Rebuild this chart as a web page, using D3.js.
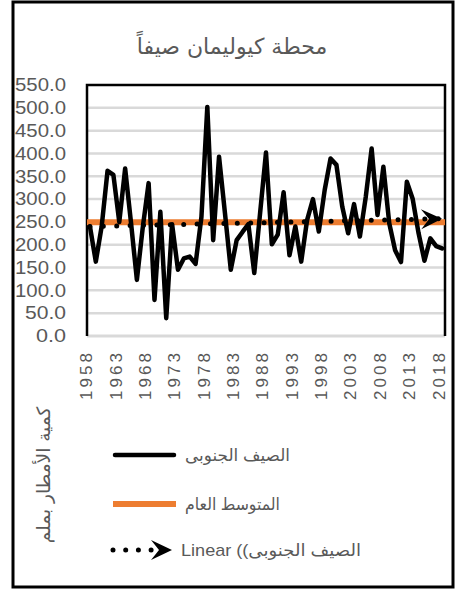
<!DOCTYPE html>
<html><head><meta charset="utf-8">
<script src="https://cdn.jsdelivr.net/npm/d3@7"></script>
<style>body{margin:0;background:#fff} svg{display:block}</style>
</head><body>
<svg id="chart" width="455" height="589"></svg>
<script>
// ---- data ----
const years = d3.range(1958, 2019);
const rainfall = [240,163,240,362,353,250,367,248,123,238,
                  335,79,272,39,245,145,170,174,158,261,
                  502,210,393,270,145,210,228,245,138,270,
                  402,201,222,315,177,240,163,254,300,229,
                  320,389,375,283,225,289,218,305,411,265,
                  371,247,188,162,338,300,225,165,214,197,192];
const meanValue = [249];
const trendYears = [1958, 2018];
const trendValues = [240, 257];
const yTicks = [0,50,100,150,200,250,300,350,400,450,500,550];
const xTickYears = [1958,1963,1968,1973,1978,1983,1988,1993,1998,2003,2008,2013,2018];
const chartTitle = "محطة كيوليمان صيفاً";
const yTitle = "كمية الأمطار  بملم";
const legendLabels = ["الصيف الجنوبى", "المتوسط  العام", "Linear ((الصيف الجنوبى"];

// ---- layout ----
const svg = d3.select("#chart");
const plot = {left: 87, right: 445, top: 85, bottom: 336};
const textGray = "#595959";
const orange = "#ED7D31";

const x = d3.scalePoint().domain(years).range([plot.left, plot.right]).padding(0.5);
const y = d3.scaleLinear().domain([0, 550]).range([plot.bottom, plot.top]);

// outer border
svg.append("rect").attr("x", 13).attr("y", 2).attr("width", 440).attr("height", 585)
  .attr("fill", "none").attr("stroke", "#000").attr("stroke-width", 3);

// title
svg.append("text").attr("x", 232).attr("y", 54).attr("text-anchor", "middle")
  .attr("font-family", "DejaVu Sans, sans-serif").attr("font-size", 22).attr("fill", textGray)
  .text(chartTitle);

// gridlines
svg.append("g").selectAll("line").data(yTicks.filter(d => d > 0 && d < 550)).join("line")
  .attr("x1", plot.left).attr("x2", plot.right)
  .attr("y1", d => y(d)).attr("y2", d => y(d))
  .attr("stroke", "#d9d9d9").attr("stroke-width", 2.5);

// bottom axis line (gray)
svg.append("line").attr("x1", plot.left).attr("x2", plot.right)
  .attr("y1", y(0)).attr("y2", y(0)).attr("stroke", "#d9d9d9").attr("stroke-width", 3);

// frame: top, right, left
svg.append("path")
  .attr("d", `M${plot.left},${y(0)}V${plot.top}H${plot.right}V${y(0)}`)
  .attr("fill", "none").attr("stroke", "#000").attr("stroke-width", 2.5);

// y axis labels
const yAxis = d3.axisLeft(y).tickValues(yTicks).tickFormat(d => d.toFixed(1)).tickSize(0).tickPadding(0);
const yg = svg.append("g").attr("transform", "translate(66,0)").call(yAxis);
yg.select(".domain").remove();
yg.selectAll("text").attr("font-family", "Liberation Sans, Arial, sans-serif")
  .attr("font-size", 18).attr("fill", textGray)
  .attr("textLength", 51).attr("lengthAdjust", "spacingAndGlyphs");
yg.selectAll("text").filter(d => d < 100).attr("textLength", d => d < 10 ? 30 : 41);

// x axis labels (rotated)
const xAxis = d3.axisBottom(x).tickValues(xTickYears).tickSize(0).tickPadding(0);
const xg = svg.append("g").attr("transform", `translate(0,${plot.bottom})`).call(xAxis);
xg.select(".domain").remove();
xg.selectAll("text")
  .attr("font-family", "Liberation Sans, Arial, sans-serif").attr("font-size", 17).attr("fill", textGray)
  .attr("text-anchor", "end").attr("transform", "rotate(-90)")
  .attr("x", -17).attr("y", -4).attr("dy", "0.35em")
  .attr("textLength", 47).attr("lengthAdjust", "spacing");

// y title
svg.append("text").attr("transform", "translate(50,475) rotate(-90)")
  .attr("text-anchor", "middle").attr("font-family", "DejaVu Sans, sans-serif")
  .attr("font-size", 18.5).attr("fill", textGray).text(yTitle);

// arrow marker
const defs = svg.append("defs");
defs.append("marker").attr("id", "stealth").attr("markerUnits", "userSpaceOnUse")
  .attr("viewBox", "-22 -11 24 22").attr("refX", 0).attr("refY", 0)
  .attr("markerWidth", 24).attr("markerHeight", 22).attr("orient", "auto")
  .append("path").attr("d", "M0,0 L-21,-10 L-13,0 L-21,10 Z").attr("fill", "#000");

// mean line
const step = x.step();
svg.append("line")
  .attr("x1", x(years[0]) - step / 2).attr("x2", x(years[years.length - 1]) + step / 2)
  .attr("y1", y(meanValue[0])).attr("y2", y(meanValue[0]))
  .attr("stroke", orange).attr("stroke-width", 6);

// rainfall line
svg.append("path").datum(rainfall)
  .attr("d", d3.line().x((d, i) => x(years[i])).y(d => y(d)))
  .attr("fill", "none").attr("stroke", "#000").attr("stroke-width", 4.5)
  .attr("stroke-linejoin", "round").attr("stroke-linecap", "round");

// trend line
svg.append("path").datum(trendValues)
  .attr("d", d3.line().x((d, i) => x(trendYears[i])).y(d => y(d)))
  .attr("fill", "none").attr("stroke", "#000").attr("stroke-width", 5)
  .attr("stroke-dasharray", "0 13.4").attr("stroke-linecap", "round")
  .attr("marker-end", "url(#stealth)");

// legend
const legend = svg.append("g");
const legY = [455, 504, 550];
legend.append("line").attr("x1", 115).attr("x2", 174).attr("y1", legY[0]).attr("y2", legY[0])
  .attr("stroke", "#000").attr("stroke-width", 4.5).attr("stroke-linecap", "round");
legend.append("line").attr("x1", 113).attr("x2", 176).attr("y1", legY[1]).attr("y2", legY[1])
  .attr("stroke", orange).attr("stroke-width", 6);
legend.append("line").attr("x1", 113).attr("x2", 172).attr("y1", legY[2]).attr("y2", legY[2])
  .attr("stroke", "#000").attr("stroke-width", 5).attr("stroke-dasharray", "0 12.7")
  .attr("stroke-linecap", "round").attr("marker-end", "url(#stealth)");
const legWidths = [105, 95, 180];
legend.selectAll("text.lbl").data(legendLabels).join("text").attr("class", "lbl")
  .attr("x", (d, i) => i === 2 ? 181 : 185).attr("y", (d, i) => legY[i]).attr("dy", "0.35em")
  .attr("direction", "ltr").attr("text-anchor", "start")
  .attr("font-family", "Liberation Sans, DejaVu Sans, sans-serif").attr("font-size", 17)
  .attr("textLength", (d, i) => legWidths[i]).attr("lengthAdjust", "spacingAndGlyphs")
  .attr("fill", textGray).text(d => d);
</script>
</body></html>
